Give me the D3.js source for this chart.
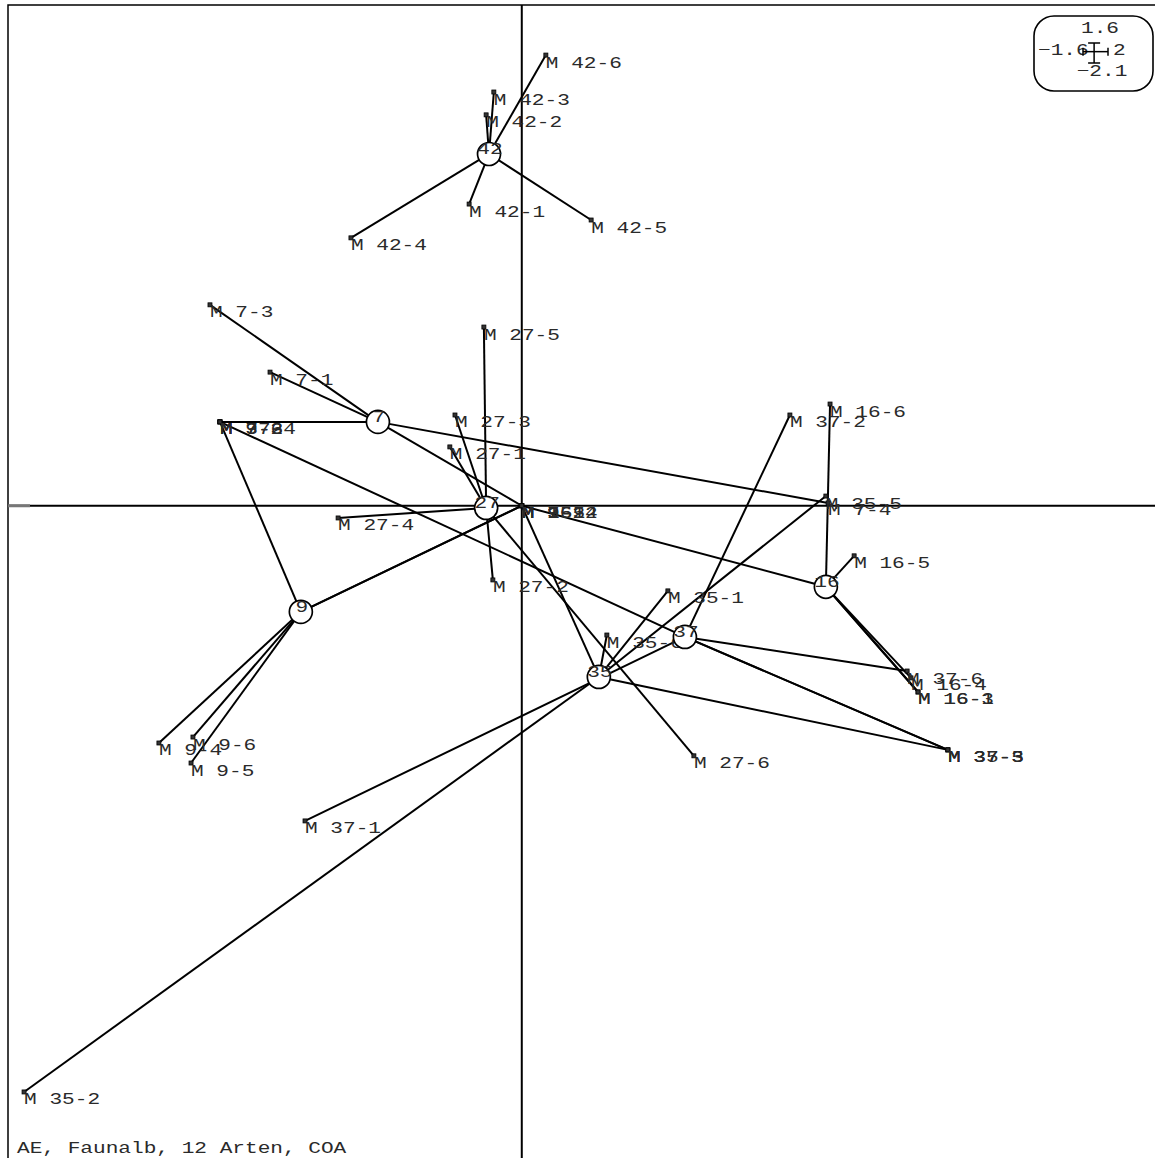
<!DOCTYPE html>
<html>
<head>
<meta charset="utf-8">
<script src="https://cdn.jsdelivr.net/npm/d3@7"></script>
<style>
  html, body { margin: 0; padding: 0; background: #fff; }
  svg { display: block; }
  text { font-family: "Liberation Mono", "DejaVu Sans Mono", monospace; }
</style>
</head>
<body>
<svg id="chart" width="1155" height="1158"></svg>
<script>
// ---- Data ----
const title = "AE, Faunalb, 12 Arten, COA";
const xLimits = [-1.6, 2];
const yLimits = [-2.1, 1.6];

const groups = ["42", "7", "27", "9", "35", "37", "16"];
const centroidX = [-0.102, -0.448, -0.111, -0.688, 0.240, 0.508, 0.947];
const centroidY = [1.124, 0.268, -0.007, -0.339, -0.547, -0.419, -0.259];

const pointLabels = [
  "M 42-1", "M 42-2", "M 42-3", "M 42-4", "M 42-5", "M 42-6",
  "M 7-1", "M 7-2", "M 7-3", "M 7-4", "M 7-5", "M 7-6",
  "M 27-1", "M 27-2", "M 27-3", "M 27-4", "M 27-5", "M 27-6",
  "M 9-1", "M 9-2", "M 9-3", "M 9-4", "M 9-5", "M 9-6",
  "M 35-1", "M 35-2", "M 35-3", "M 35-4", "M 35-5", "M 35-6",
  "M 37-1", "M 37-2", "M 37-3", "M 37-4", "M 37-5", "M 37-6",
  "M 16-1", "M 16-2", "M 16-3", "M 16-4", "M 16-5", "M 16-6"
];
const pointGroup = [
  "42", "42", "42", "42", "42", "42",
  "7", "7", "7", "7", "7", "7",
  "27", "27", "27", "27", "27", "27",
  "9", "9", "9", "9", "9", "9",
  "35", "35", "35", "35", "35", "35",
  "37", "37", "37", "37", "37", "37",
  "16", "16", "16", "16", "16", "16"
];
const pointX = [
  -0.164, -0.111, -0.087, -0.532, 0.216, 0.075,
  -0.784, -0.940, -0.971, 0.954, 0.000, -0.940,
  -0.224, -0.090, -0.208, -0.572, -0.118, 0.536,
  0.000, 0.000, -0.940, -1.130, -1.030, -1.024,
  0.455, -1.550, 1.327, 0.000, 0.947, 0.265,
  -0.675, 0.835, 1.327, -0.940, 1.327, 1.200,
  1.234, 0.000, 1.234, 1.212, 1.035, 0.960
];
const pointY = [
  0.964, 1.249, 1.322, 0.856, 0.913, 1.440,
  0.427, 0.268, 0.642, 0.009, 0.000, 0.268,
  0.188, -0.237, 0.290, -0.039, 0.571, -0.799,
  0.000, 0.000, 0.268, -0.758, -0.822, -0.739,
  -0.272, -1.873, -0.780, 0.000, 0.031, -0.413,
  -1.007, 0.290, -0.780, 0.268, -0.780, -0.528,
  -0.595, 0.000, -0.595, -0.550, -0.160, 0.325
];

// ---- Drawing ----
const svg = d3.select("#chart");
const x = d3.scaleLinear().domain(xLimits).range([8, 1164]);
const y = d3.scaleLinear().domain(yLimits).range([1163, 5]);
const SX = 1.28;      // horizontal stretch of the typewriter-like font
const FS = 16.5;
const TXT = "#2a2a2a";
const LW = 2;

const cx = {}, cy = {};
groups.forEach((g, i) => { cx[g] = centroidX[i]; cy[g] = centroidY[i]; });

const points = pointLabels.map((lab, i) => ({
  label: lab, group: pointGroup[i], x: pointX[i], y: pointY[i]
}));

// frame
svg.append("rect")
  .attr("x", x(xLimits[0])).attr("y", y(yLimits[1]))
  .attr("width", x(xLimits[1]) - x(xLimits[0]))
  .attr("height", y(yLimits[0]) - y(yLimits[1]))
  .attr("fill", "none").attr("stroke", "#000").attr("stroke-width", 1.5);

// axes through origin
svg.append("line")
  .attr("x1", x(xLimits[0])).attr("x2", x(xLimits[1]))
  .attr("y1", y(0)).attr("y2", y(0))
  .attr("stroke", "#000").attr("stroke-width", LW);
svg.append("line")
  .attr("x1", x(0)).attr("x2", x(0))
  .attr("y1", y(yLimits[1])).attr("y2", y(yLimits[0]))
  .attr("stroke", "#000").attr("stroke-width", LW);
svg.append("line")
  .attr("x1", x(xLimits[0])).attr("x2", x(xLimits[0]) + 22)
  .attr("y1", y(0)).attr("y2", y(0))
  .attr("stroke", "#777").attr("stroke-width", 3);

// star segments
svg.append("g").selectAll("line").data(points).join("line")
  .attr("x1", d => x(cx[d.group])).attr("y1", d => y(cy[d.group]))
  .attr("x2", d => x(d.x)).attr("y2", d => y(d.y))
  .attr("stroke", "#000").attr("stroke-width", LW);

// point markers
svg.append("g").selectAll("rect").data(points).join("rect")
  .attr("x", d => x(d.x) - 2).attr("y", d => y(d.y) - 2)
  .attr("width", 4).attr("height", 4)
  .attr("fill", "#333").attr("stroke", "#000").attr("stroke-width", 0.8);

// point labels
svg.append("g").selectAll("text").data(points).join("text")
  .attr("transform", d => `translate(${x(d.x)},${y(d.y) + 12.5}) scale(${SX},1)`)
  .attr("font-size", FS).attr("fill", TXT)
  .text(d => d.label);

// centroid circles
const cg = svg.append("g").selectAll("g").data(groups).join("g");
cg.append("circle")
  .attr("cx", g => x(cx[g])).attr("cy", g => y(cy[g]))
  .attr("r", 11.5)
  .attr("fill", "#fff").attr("stroke", "#000").attr("stroke-width", 1.7);
cg.append("text")
  .attr("transform", g => `translate(${x(cx[g]) + 1},${y(cy[g])}) scale(${SX},1)`)
  .attr("text-anchor", "middle")
  .attr("font-size", FS).attr("fill", TXT)
  .text(g => g);

// legend box (limits of the window)
const lg = svg.append("g");
lg.append("rect")
  .attr("x", 1034).attr("y", 16).attr("width", 119).attr("height", 75)
  .attr("rx", 20).attr("ry", 20)
  .attr("fill", "#fff").attr("stroke", "#000").attr("stroke-width", 1.6);
const fmt = v => (v < 0 ? "\u2212" : "") + Math.abs(v);
const lt = (tx, ty, s, anchor) => lg.append("text")
  .attr("transform", `translate(${tx},${ty}) scale(${SX},1)`)
  .attr("text-anchor", anchor).attr("font-size", FS).attr("fill", TXT).text(s);
lt(1100, 33, fmt(yLimits[1]), "middle");
lt(1038, 55, fmt(xLimits[0]), "start");
lt(1113, 55, fmt(xLimits[1]), "start");
lt(1102, 76, fmt(yLimits[0]), "middle");
// mini cross showing extent
const mx = d3.scaleLinear().domain(xLimits).range([1083, 1108]);
const my = d3.scaleLinear().domain(yLimits).range([63, 43]);
const crossStyle = sel => sel.attr("stroke", "#000").attr("stroke-width", 1.5);
crossStyle(lg.append("line").attr("x1", mx(xLimits[0])).attr("x2", mx(xLimits[1])).attr("y1", my(0)).attr("y2", my(0)));
crossStyle(lg.append("line").attr("x1", mx(0)).attr("x2", mx(0)).attr("y1", my(yLimits[0])).attr("y2", my(yLimits[1])));
crossStyle(lg.append("line").attr("x1", mx(0) - 6).attr("x2", mx(0) + 6).attr("y1", my(yLimits[0])).attr("y2", my(yLimits[0])));
crossStyle(lg.append("line").attr("x1", mx(0) - 6).attr("x2", mx(0) + 6).attr("y1", my(yLimits[1])).attr("y2", my(yLimits[1])));
crossStyle(lg.append("line").attr("x1", mx(xLimits[0])).attr("x2", mx(xLimits[0])).attr("y1", my(0) - 4).attr("y2", my(0) + 4));
crossStyle(lg.append("line").attr("x1", mx(xLimits[1])).attr("x2", mx(xLimits[1])).attr("y1", my(0) - 4).attr("y2", my(0) + 4));

// title
svg.append("text")
  .attr("transform", `translate(17,1153) scale(${SX},1)`)
  .attr("font-size", FS).attr("fill", TXT)
  .text(title);
</script>
</body>
</html>
